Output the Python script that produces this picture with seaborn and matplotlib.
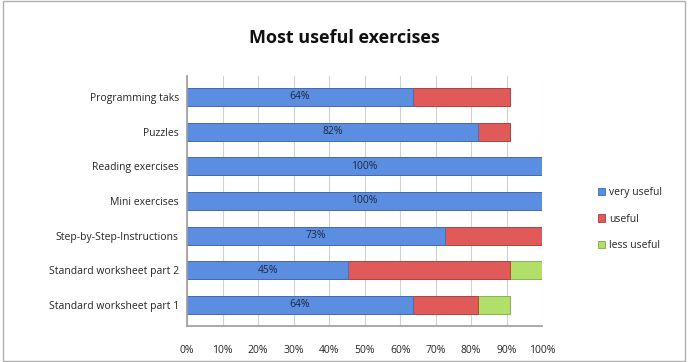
import matplotlib
matplotlib.use("Agg")
import matplotlib.pyplot as plt
import seaborn as sns
import pandas as pd
import numpy as np
from matplotlib.patches import Rectangle
from matplotlib.ticker import PercentFormatter

categories = ["Programming taks", "Puzzles", "Reading exercises", "Mini exercises",
              "Step-by-Step-Instructions", "Standard worksheet part 2", "Standard worksheet part 1"]
very_useful = [63.6, 81.8, 100, 100, 72.7, 45.4, 63.6]
useful = [27.3, 9.1, 0, 0, 27.3, 45.5, 18.2]
less_useful = [0, 0, 0, 0, 0, 9.1, 9.1]
series_names = ["very useful", "useful", "less useful"]
colors = {"very useful": "#5b8ee0", "useful": "#e05a5a", "less useful": "#b2de6a"}

sns.set_theme(style="white")
plt.rcParams['font.family'] = ['Open Sans', 'DejaVu Sans']

df = pd.DataFrame({"category": categories, "very": very_useful,
                   "useful": useful, "less": less_useful})
df["cum1"] = df["very"]
df["cum2"] = df["very"] + df["useful"]
df["cum3"] = df["cum2"] + df["less"]

fig = plt.figure(figsize=(6.88, 3.62), dpi=100)
fig.patches.append(Rectangle((0.004, 0.004), 0.992, 0.992, transform=fig.transFigure,
                             fill=False, edgecolor="#b0b0b0", linewidth=1.0))
ax = fig.add_axes([0.272, 0.1, 0.516, 0.69])

for col, name, edge in [("cum3", "less useful", "#7fa83f"), ("cum2", "useful", "#b03a3a"),
                        ("cum1", "very useful", "#3b6cb8")]:
    sns.barplot(data=df, x=col, y="category", orient="h", color=colors[name],
                saturation=1, width=0.52, ax=ax, edgecolor=edge, linewidth=0.6,
                label=name)

handles, labels = ax.get_legend_handles_labels()
if ax.get_legend() is not None:
    ax.get_legend().remove()

for i, v in enumerate(very_useful):
    ax.text(v / 2, i, f"{round(v)}%", ha="center", va="center", fontsize=7.5, color="#1a2a40")

ax.set_xlim(0, 100)
ax.set_xticks(np.arange(0, 101, 10))
ax.xaxis.set_major_formatter(PercentFormatter(decimals=0))
ax.set_xlabel("")
ax.set_ylabel("")
ax.grid(axis="x", color="#d0d0d0", linewidth=0.8)
ax.set_axisbelow(True)
ax.tick_params(axis="y", labelsize=7.5, length=0, pad=6)
ax.tick_params(axis="x", labelsize=7.5, length=0, pad=14)
for s in ["top", "right"]:
    ax.spines[s].set_visible(False)
ax.spines["left"].set_color("#a0a0a0")
ax.spines["bottom"].set_color("#a0a0a0")
ax.set_ylim(6.6, -0.6)

order = [labels.index(n) for n in series_names]
fig.legend([handles[k] for k in order], series_names, loc="center left",
           bbox_to_anchor=(0.855, 0.395), frameon=False, fontsize=7.5,
           handlelength=0.7, handleheight=0.7, handletextpad=0.4, labelspacing=1.5)

fig.text(0.5, 0.895, "Most useful exercises", ha="center", va="center",
         fontsize=13, fontweight="bold", color="#111111")

fig.savefig("out.png", dpi=100)
